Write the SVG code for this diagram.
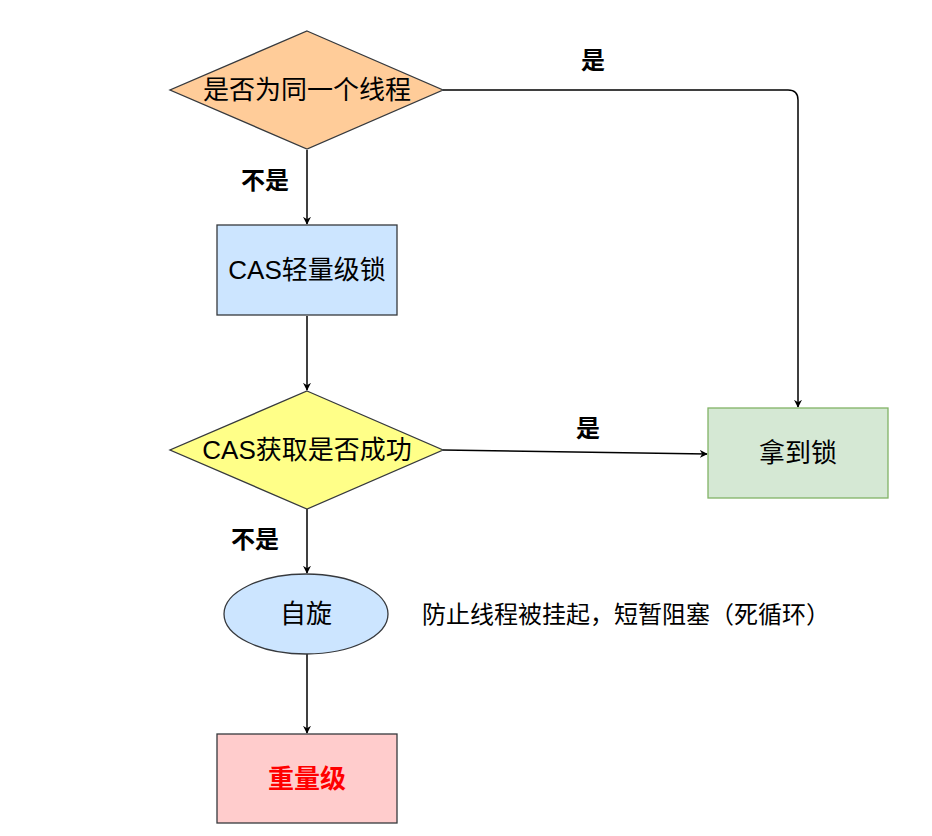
<svg xmlns="http://www.w3.org/2000/svg" width="932" height="836" viewBox="0 0 932 836">
<defs>
<style>
.t{font-family:"Liberation Sans","Noto Sans CJK SC",sans-serif;font-size:26px;fill:#000;text-anchor:middle;dominant-baseline:central}
.lb{font-family:"Liberation Sans","Noto Sans CJK SC",sans-serif;font-size:24px;font-weight:bold;fill:#000;text-anchor:middle;dominant-baseline:central}
.side{font-family:"Liberation Sans","Noto Sans CJK SC",sans-serif;font-size:24px;fill:#000;dominant-baseline:central}
.n{stroke:#36393d;stroke-width:1.3}
.c{fill:none;stroke:#000;stroke-width:1.5;marker-end:url(#ah)}
</style>
<marker id="ah" viewBox="0 0 10 10" refX="9" refY="5" markerWidth="8" markerHeight="8" markerUnits="userSpaceOnUse" orient="auto">
<path d="M0,0 L10,5 L0,10 L3,5 Z" fill="#000"/>
</marker>
</defs>
<rect width="932" height="836" fill="#fff"/>
<g id="connectors">
<path class="c" d="M443,90 H788 Q798,90 798,100 V407"/>
<path class="c" d="M307,150 V224"/>
<path class="c" d="M307,316 V390"/>
<path class="c" d="M443,450 L707,454"/>
<path class="c" d="M307,509 V573"/>
<path class="c" d="M307,654 V733"/>
</g>
<g id="labels">
<text class="lb" x="593" y="60">是</text>
<text class="lb" x="265" y="180">不是</text>
<text class="lb" x="588" y="428">是</text>
<text class="lb" x="255" y="539">不是</text>
<text class="side" x="422" y="614">防止线程被挂起，短暂阻塞（死循环）</text>
</g>
<g id="n1">
<polygon class="n" points="307,31 443,90 307,149 170,90" fill="#ffcc99"/>
<text class="t" x="307" y="90">是否为同一个线程</text>
</g>
<g id="n2">
<rect class="n" x="217" y="225" width="180" height="90" fill="#cce5ff"/>
<text class="t" x="307" y="270">CAS轻量级锁</text>
</g>
<g id="n3">
<polygon class="n" points="307,391 443,450 307,509 170,450" fill="#ffff88"/>
<text class="t" x="307" y="450">CAS获取是否成功</text>
</g>
<g id="n4">
<rect x="708" y="408" width="180" height="90" fill="#d5e8d4" stroke="#82b366" stroke-width="1.3"/>
<text class="t" x="798" y="453">拿到锁</text>
</g>
<g id="n5">
<ellipse class="n" cx="306" cy="614" rx="82" ry="40" fill="#cce5ff"/>
<text class="t" x="306" y="614">自旋</text>
</g>
<g id="n6">
<rect class="n" x="217" y="734" width="180" height="89" fill="#ffcccc"/>
<text class="t" x="307" y="779" style="fill:#ff0000;font-weight:bold">重量级</text>
</g>
</svg>
